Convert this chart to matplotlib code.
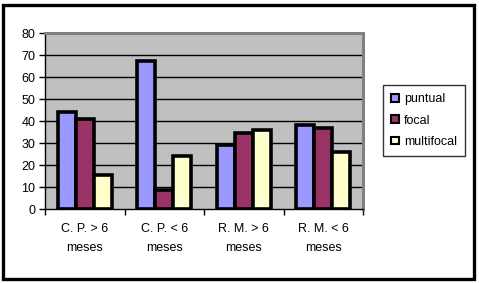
import matplotlib
matplotlib.use("Agg")
import matplotlib.pyplot as plt
from matplotlib.patches import Rectangle
import numpy as np

categories = ["C. P. > 6\nmeses", "C. P. < 6\nmeses", "R. M. > 6\nmeses", "R. M. < 6\nmeses"]
series_names = ["puntual", "focal", "multifocal"]
puntual = [44, 67.5, 29, 38]
focal = [41, 8.5, 34.5, 37]
multifocal = [15.5, 24, 36, 26]
colors = ["#9999FF", "#993366", "#FFFFCC"]
yticks = [0, 10, 20, 30, 40, 50, 60, 70, 80]

plt.rcParams['font.family'] = ['Liberation Sans', 'DejaVu Sans']

W, H = 479, 283
fig = plt.figure(figsize=(W / 100, H / 100), dpi=100)
fig.patch.set_facecolor("white")

# outer frame
fig.add_artist(Rectangle((3 / W, 4 / H), 471 / W, 274 / H, transform=fig.transFigure,
                         fill=False, edgecolor="black", linewidth=2.4))

L, R, T, B = 45, 363, 33, 209
ax = fig.add_axes([L / W, 1 - B / H, (R - L) / W, (B - T) / H])
ax.set_facecolor("#C0C0C0")

x = np.arange(len(categories))
bw = 0.227
for i, (vals, c, name) in enumerate(zip([puntual, focal, multifocal], colors, series_names)):
    ax.bar(x + (i - 1) * bw, vals, width=bw, color=c, edgecolor="black", linewidth=2.6,
           label=name, zorder=3)

ax.set_xlim(-0.5, len(categories) - 0.5)
ax.set_ylim(0, 80)
ax.set_yticks(yticks)
ax.set_yticklabels([str(v) for v in yticks], fontsize=9)
for v in yticks[1:-1]:
    ax.axhline(v, color="black", linewidth=1.0, zorder=1)

ax.set_xticks(np.arange(len(categories) + 1) - 0.5)
ax.set_xticklabels([])
ax.set_xticks(x, minor=True)
ax.set_xticklabels(categories, minor=True, fontsize=9, linespacing=1.75)
ax.tick_params(axis="x", which="minor", length=0, pad=10)
ax.tick_params(axis="x", which="major", length=4, width=1, direction="out")
ax.tick_params(axis="y", length=4, width=1, direction="out", pad=3)

ax.spines["left"].set_color("black")
ax.spines["bottom"].set_color("black")
ax.spines["left"].set_linewidth(1)
ax.spines["bottom"].set_linewidth(1)
ax.spines["top"].set_color("#808080")
ax.spines["right"].set_color("#808080")
ax.spines["top"].set_linewidth(2.2)
ax.spines["right"].set_linewidth(2.2)

leg = fig.legend(loc="upper left", bbox_to_anchor=(383 / W, 1 - 85 / H), frameon=True,
                 fancybox=False, edgecolor="black", fontsize=9, handlelength=0.6,
                 handleheight=0.6, handletextpad=0.45, labelspacing=0.75,
                 borderpad=0.65, borderaxespad=0)
leg.get_frame().set_linewidth(1)
for h in leg.legend_handles:
    h.set_linewidth(1.5)

fig.savefig("out.png", dpi=100)
